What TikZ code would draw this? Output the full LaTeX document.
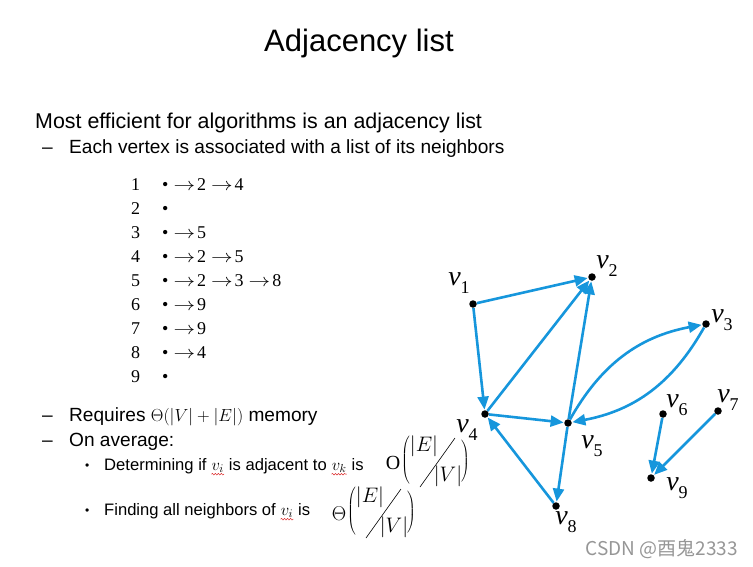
\RequirePackage{fix-cm}
\documentclass[tikz,border=0pt]{standalone}
\usepackage{fontspec}
\setmainfont{Liberation Serif}
\setsansfont{Liberation Sans}
\newfontfamily\cjkfont{Noto Sans CJK SC}
\usetikzlibrary{positioning,arrows.meta,decorations.pathmorphing}
\definecolor{edgeblue}{RGB}{22,150,220}
\definecolor{markgray}{RGB}{150,150,150}
\definecolor{spellred}{RGB}{220,40,40}
\newcommand{\vname}[1]{\textit{v}\raisebox{-8pt}{\fontsize{18}{18}\selectfont #1}}
\newcommand{\nbr}[1]{\hspace{5pt}\scalebox{1.2}[1]{$\rightarrow$}\hspace{2pt}#1}

\begin{document}
\begin{tikzpicture}[x=1pt,y=-1pt,
		vdot/.style={circle,fill=black,inner sep=0pt,minimum size=7.5pt},
		vlabel/.style={font=\fontsize{28}{30}\selectfont,inner sep=0pt},
		edge/.style={edgeblue,line width=2.6pt,-{Triangle[length=13pt,width=11pt]},shorten >=0.5pt},
		sanstext/.style={font=\sffamily\fontsize{19.1}{22}\selectfont,anchor=base west,inner sep=0pt},
		smalltext/.style={font=\sffamily\fontsize{16.6}{20}\selectfont,anchor=base west,inner sep=0pt},
		listrow/.style={font=\fontsize{18}{20}\selectfont,anchor=base west,inner sep=0pt},
		squiggle/.style={spellred,line width=0.5pt,decorate,decoration={snake,segment length=3pt,amplitude=0.8pt}},
		paren/.style={font=\fontsize{13}{13}\selectfont,inner sep=0pt},
		fracpart/.style={font=\fontsize{21}{22}\selectfont,inner sep=0pt}]
	\useasboundingbox (0,0) rectangle (753,566);
	% heading and first lines
	\node[font=\sffamily\fontsize{31}{36}\selectfont,anchor=base,inner sep=0pt] (title) at (359,51) {Adjacency list};
	\node[sanstext,font=\sffamily\fontsize{21.4}{24}\selectfont] (intro) at (35,128) {Most efficient for algorithms is an adjacency list};
	\node[sanstext] (dashone) at (42,153) {–};
	\node[sanstext] (each) at (69,153) {Each vertex is associated with a list of its neighbors};
	% the list itself
	\foreach \i/\nbrs in {1/{\nbr2\nbr4},2/{},3/{\nbr5},4/{\nbr2\nbr5},5/{\nbr2\nbr3\nbr8},
			6/{\nbr9},7/{\nbr9},8/{\nbr4},9/{}} {
		\node[listrow] (num\i) at (131,{190+24*(\i-1)}) {\i};
		\node[listrow] (row\i) at (162,{190+24*(\i-1)}) {\textbullet\nbrs};
	}
	% memory and cost
	\node[sanstext] (dashtwo) at (42,421) {–};
	\node[sanstext] (memory) at (69,421) {Requires {\fontsize{17.5}{20}\selectfont$\Theta(|V| + |E|)$} memory};
	\node[sanstext] (dashthree) at (42,446) {–};
	\node[sanstext] (average) at (69,446) {On average:};
	\node[smalltext,font=\sffamily\fontsize{12}{14}\selectfont] (dotone) at (85,469) {•};
	\node[smalltext] (detA) at (104,470) {Determining if};
	\node[smalltext] (detvi) at ([xshift=4.6pt]detA.base east) {$v_i$};
	\node[smalltext] (detB) at (detvi.base east) {\ is adjacent to};
	\node[smalltext] (detvk) at ([xshift=4.6pt]detB.base east) {$v_k$};
	\node[smalltext] (detC) at (detvk.base east) {\ is};
	\node[smalltext,font=\sffamily\fontsize{12}{14}\selectfont] (dottwo) at (85,514) {•};
	\node[smalltext] (findA) at (104,515) {Finding all neighbors of};
	\node[smalltext] (findvi) at ([xshift=4.6pt]findA.base east) {$v_i$};
	\node[smalltext] (findB) at (findvi.base east) {\ is};
	\draw[squiggle] ([yshift=-1.5pt]detvi.south west) -- ([yshift=-1.5pt]detvi.south east);
	\draw[squiggle] ([yshift=-1.5pt]detvk.south west) -- ([yshift=-1.5pt]detvk.south east);
	\draw[squiggle] ([yshift=-1.5pt]findvi.south west) -- ([yshift=-1.5pt]findvi.south east);
	% the two bounds
	\foreach \sym/\dx/\dy/\nm in {{\mathrm{O}}/0/0/o,{\Theta}/-54/51/t} {
		\begin{scope}[shift={(\dx,\dy)}]
			\node[font=\fontsize{20}{20}\selectfont,inner sep=0pt] (\nm-sym) at (393,463) {$\sym$};
			\node[paren] (\nm-lp) at (406,460) {$\left(\vcenter{\hrule height 50pt width 0pt}\right.$};
			\node[fracpart] (\nm-num) at (424,446) {$|E|$};
			\node[fracpart] (\nm-den) at (448,476) {$|V|$};
			\node[paren] (\nm-rp) at (465,461) {$\left.\vcenter{\hrule height 46pt width 0pt}\right)$};
			\coordinate (\nm-sa) at (420,487);
			\coordinate (\nm-sb) at (455,438);
			\draw[line width=0.6pt] (\nm-sa) -- (\nm-sb);
		\end{scope}
	}
	% graph
	\node[vdot] (v1) at (473,304) {};
	\node[vdot] (v2) at (592,277) {};
	\node[vdot] (v3) at (706,324) {};
	\node[vdot] (v4) at (485,414) {};
	\node[vdot] (v5) at (568,423) {};
	\node[vdot] (v6) at (663,414) {};
	\node[vdot] (v7) at (718,411) {};
	\node[vdot] (v8) at (556,506) {};
	\node[vdot] (v9) at (651,478) {};
	\node[vlabel] (lv1) at (459,283) {\vname{1}};
	\node[vlabel] (lv2) at (607,266) {\vname{2}};
	\node[vlabel] (lv3) at (722,320) {\vname{3}};
	\node[vlabel] (lv4) at (467,430) {\vname{4}};
	\node[vlabel] (lv5) at (592,446) {\vname{5}};
	\node[vlabel] (lv6) at (677,405) {\vname{6}};
	\node[vlabel] (lv7) at (728,400) {\vname{7}};
	\node[vlabel] (lv8) at (566,522) {\vname{8}};
	\node[vlabel] (lv9) at (677,488) {\vname{9}};
	\draw[edge] (v1) -- (v2);
	\draw[edge] (v1) -- (v4);
	\draw[edge] (v4) -- (v2);
	\draw[edge] (v4) -- (v5);
	\draw[edge] (v5) -- (v2);
	\draw[edge] (v5) to[bend left=25] (v3);
	\draw[edge] (v3) to[bend left=25] (v5);
	\draw[edge] (v5) -- (v8);
	\draw[edge] (v8) -- (v4);
	\draw[edge] (v6) -- (v9);
	\draw[edge] (v7) -- (v9);
	% watermark
	\node[font=\cjkfont\fontsize{19}{21}\selectfont,text=markgray,anchor=base east,inner sep=0pt] (mark) at (738,555) {CSDN @酉鬼2333};
\end{tikzpicture}
\end{document}
